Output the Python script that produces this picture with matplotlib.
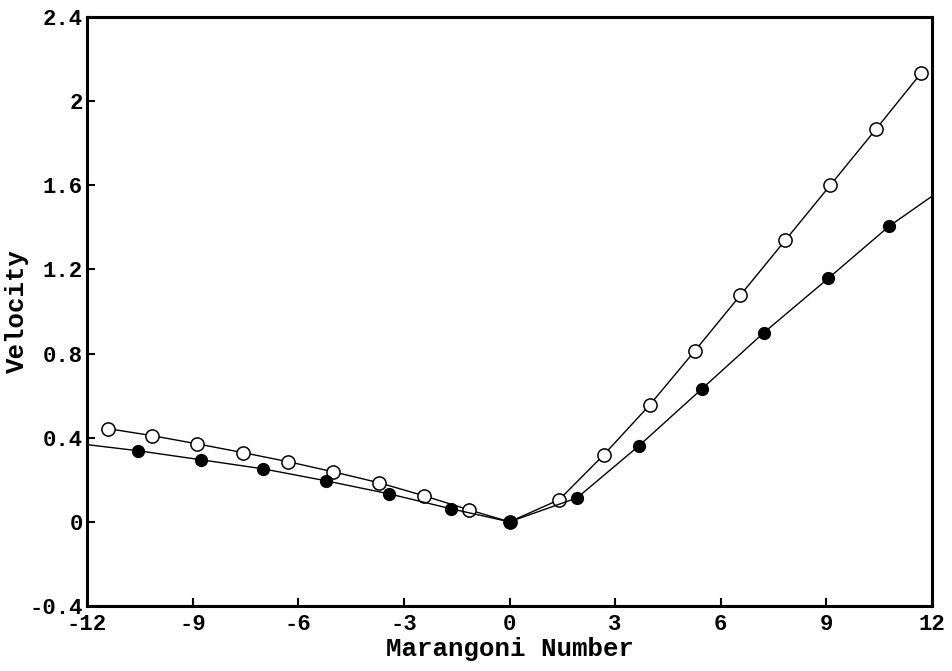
import numpy as np
import matplotlib
matplotlib.use("Agg")
import matplotlib.pyplot as plt

# open circles (line starts at the first marker)
open_x = [-11.40, -10.16, -8.88, -7.57, -6.29, -5.01, -3.71, -2.43, -1.15, 0.0,
          1.41, 2.68, 3.99, 5.27, 6.55, 7.83, 9.11, 10.41, 11.69]
open_y = [0.443, 0.410, 0.371, 0.329, 0.286, 0.238, 0.186, 0.124, 0.057, 0.0,
          0.105, 0.319, 0.557, 0.814, 1.076, 1.338, 1.600, 1.867, 2.133]

# filled circles (line runs to both axis edges, no marker at the ends)
filled_x = [-12.0, -10.55, -8.76, -7.00, -5.21, -3.42, -1.66, 0.0,
            1.92, 3.68, 5.47, 7.23, 9.05, 10.78, 12.0]
filled_y = [0.367, 0.338, 0.295, 0.252, 0.195, 0.133, 0.062, 0.0,
            0.114, 0.362, 0.633, 0.900, 1.157, 1.405, 1.548]

x_ticks = [-12, -9, -6, -3, 0, 3, 6, 9, 12]
y_ticks = [-0.4, 0, 0.4, 0.8, 1.2, 1.6, 2, 2.4]
y_tick_labels = ["-0.4", "0", "0.4", "0.8", "1.2", "1.6", "2", "2.4"]

mono = "Liberation Mono"

fig = plt.figure(figsize=(9.52, 6.71), dpi=100)
ax = fig.add_axes([0.0914, 0.0969, 0.8876, 0.8778])

ax.plot(open_x, open_y, color="black", linewidth=1.0, marker="o",
        markersize=9.5, markerfacecolor="white", markeredgecolor="black",
        markeredgewidth=1.1, zorder=3)
ax.plot(filled_x, filled_y, color="black", linewidth=1.0, marker="o",
        markersize=8.5, markerfacecolor="black", markeredgecolor="black",
        markevery=slice(1, -1), zorder=4)

ax.set_xlim(-12, 12)
ax.set_ylim(-0.4, 2.4)
ax.set_xticks(x_ticks)
ax.set_xticklabels([str(t) for t in x_ticks], fontfamily=mono,
                   fontweight="bold", fontsize=16)
ax.set_yticks(y_ticks)
ax.set_yticklabels(y_tick_labels, fontfamily=mono, fontweight="bold",
                   fontsize=16)
ax.tick_params(direction="in", length=6, width=1.5)
ax.tick_params(axis="x", pad=6)
ax.tick_params(axis="y", pad=3)

for s in ax.spines.values():
    s.set_linewidth(2.2)

ax.set_xlabel("Marangoni Number", fontfamily=mono, fontweight="bold",
              fontsize=18.5, labelpad=1)
ax.set_ylabel("Velocity", fontfamily=mono, fontweight="bold",
              fontsize=18.5, labelpad=0)

fig.savefig("out.png", dpi=100)
